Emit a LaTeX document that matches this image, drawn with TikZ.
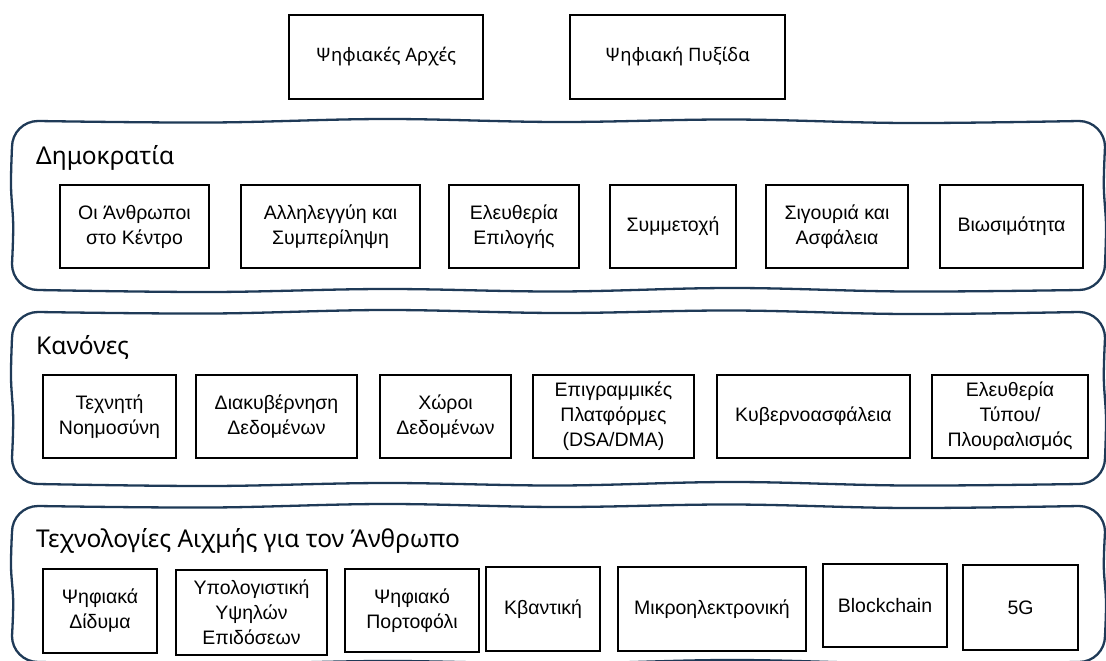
\documentclass[tikz,border=0pt]{standalone}
\usepackage{fontspec}
\setmainfont{Liberation Sans}
\newfontfamily\titlefont{Noto Sans}
\definecolor{navy}{HTML}{1F3A57}
\tikzset{
  x=1pt, y=-1pt,
  inbox/.style={draw=black, line width=2.2pt, inner sep=0pt, align=center,
    font=\fontsize{19.5}{25}\selectfont},
  topbox/.style={draw=black, line width=2.2pt, inner sep=0pt, align=center,
    font=\titlefont\fontsize{18.5}{23}\selectfont},
  container/.style={draw=navy, line width=2.3pt, line join=round},
  ctitle/.style={anchor=base west, inner sep=0pt,
    font=\titlefont\fontsize{24.5}{28}\selectfont}
}
\newcommand{\bx}[7]{% name, style, x1, y1, x2, y2, text
  \node[#2, minimum width={#5-#3}, minimum height={#6-#4}]
    (#1) at ({(#3+#5)/2},{(#4+#6)/2}) {#7};}
\newcommand{\wavy}[4]{% x1 y1 x2 y2
  \pgfmathsetmacro\wvA{#1+26}\pgfmathsetmacro\wvB{#3-26}%
  \pgfmathsetmacro\wvC{#2+26}\pgfmathsetmacro\wvD{#4-26}%
  \pgfmathsetmacro\wvS{(\wvB-\wvA)/6}%
  \pgfmathsetmacro\wvT{(\wvD-\wvC)/3}%
  \draw[container] (\wvA,#2)
    -- plot[smooth,tension=0.6] coordinates {(\wvA,#2) (\wvA+\wvS,#2+1.5) (\wvA+2*\wvS,#2-2) (\wvA+3*\wvS,#2+1) (\wvA+4*\wvS,#2-1.5) (\wvA+5*\wvS,#2+2) (\wvB,#2)}
    arc[start angle=90, end angle=0, radius=26pt]
    -- plot[smooth,tension=0.6] coordinates {(#3,\wvC) (#3-1.2,\wvC+\wvT) (#3+1,\wvC+2*\wvT) (#3,\wvD)}
    arc[start angle=0, end angle=-90, radius=26pt]
    -- plot[smooth,tension=0.6] coordinates {(\wvB,#4) (\wvB-\wvS,#4+1.5) (\wvB-2*\wvS,#4-2) (\wvB-3*\wvS,#4+1.5) (\wvB-4*\wvS,#4-1) (\wvB-5*\wvS,#4+2) (\wvA,#4)}
    arc[start angle=270, end angle=180, radius=26pt]
    -- plot[smooth,tension=0.6] coordinates {(#1,\wvD) (#1+1.2,\wvD-\wvT) (#1-1,\wvD-2*\wvT) (#1,\wvC)}
    arc[start angle=180, end angle=90, radius=26pt] -- cycle;}
\begin{document}
\begin{tikzpicture}
\useasboundingbox (0,0) rectangle (1106,661);
% top boxes
\bx{pa}{topbox}{289}{15}{483}{99}{Ψηφιακές Αρχές}
\bx{pb}{topbox}{570}{15}{785}{99}{Ψηφιακή Πυξίδα}
% container 1
\wavy{12}{121}{1105}{290}
\node[ctitle] (t1) at (36,164) {Δημοκρατία};
\bx{a1}{inbox}{60}{185}{209}{268}{Οι Άνθρωποι\\στο Κέντρο}
\bx{a2}{inbox}{241}{185}{420}{268}{Αλληλεγγύη και\\Συμπερίληψη}
\bx{a3}{inbox}{449}{185}{579}{268}{Ελευθερία\\Επιλογής}
\bx{a4}{inbox}{610}{185}{736}{268}{Συμμετοχή}
\bx{a5}{inbox}{766}{185}{908}{268}{Σιγουριά και\\Ασφάλεια}
\bx{a6}{inbox}{940}{185}{1083}{268}{Βιωσιμότητα}
% container 2
\wavy{12}{312}{1105}{484}
\node[ctitle] (t2) at (36,354) {Κανόνες};
\bx{b1}{inbox}{43}{375}{176}{458}{Τεχνητή\\Νοημοσύνη}
\bx{b2}{inbox}{196}{375}{357}{458}{Διακυβέρνηση\\Δεδομένων}
\bx{b3}{inbox}{380}{375}{511}{458}{Χώροι\\Δεδομένων}
\bx{b4}{inbox}{533}{375}{694}{458}{Επιγραμμικές\\Πλατφόρμες\\(DSA/DMA)}
\bx{b5}{inbox}{717}{375}{910}{458}{Κυβερνοασφάλεια}
\bx{b6}{inbox}{932}{375}{1088}{458}{Ελευθερία\\Τύπου/\\Πλουραλισμός}
% container 3
\wavy{12}{506}{1105}{662}
\node[ctitle] (t3) at (36,547) {Τεχνολογίες Αιχμής για τον Άνθρωπο};
\bx{c1}{inbox}{43}{569}{157}{653}{Ψηφιακά\\Δίδυμα}
\bx{c2}{inbox}{176}{570}{327}{655}{Υπολογιστική\\Υψηλών\\Επιδόσεων}
\bx{c3}{inbox}{345}{569}{479}{652}{Ψηφιακό\\Πορτοφόλι}
\bx{c4}{inbox}{486}{567}{600}{651}{Κβαντική}
\bx{c5}{inbox}{618}{567}{806}{651}{Μικροηλεκτρονική}
\bx{c6}{inbox}{823}{564}{947}{647}{Blockchain}
\bx{c7}{inbox}{963}{565}{1078}{650}{5G}
\end{tikzpicture}
\end{document}
